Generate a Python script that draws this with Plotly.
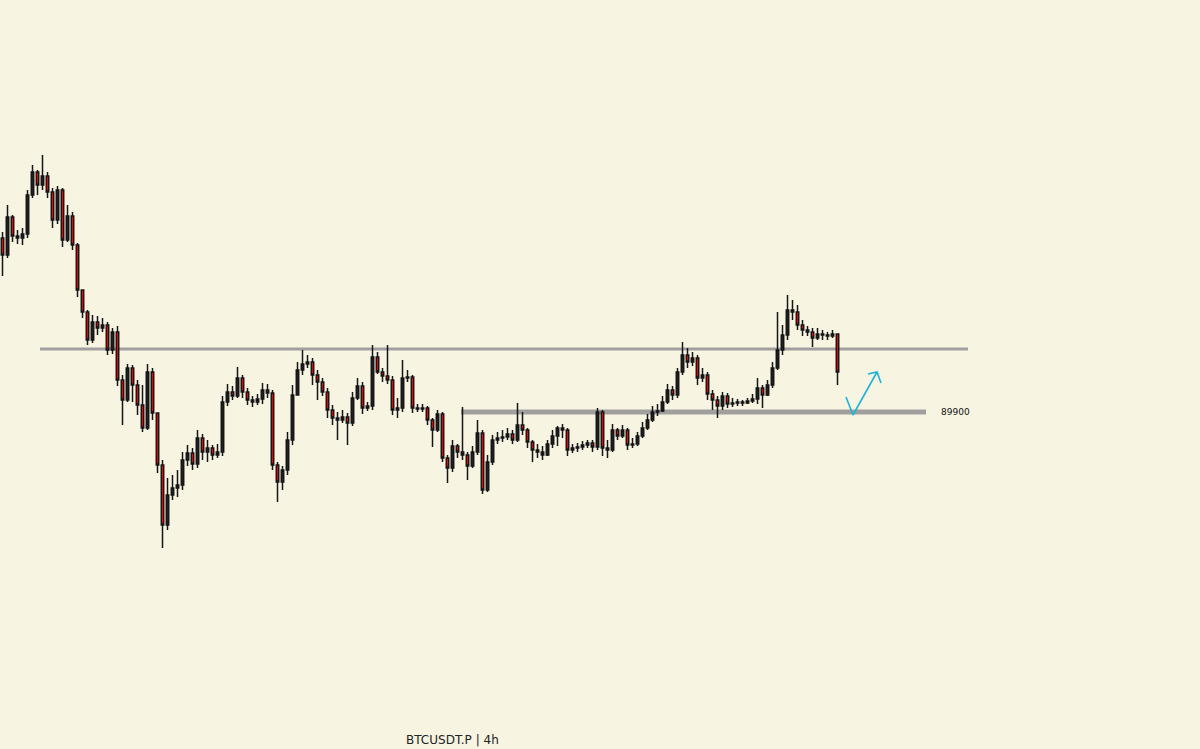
import plotly.graph_objects as go

BG = "#f7f4e2"

first_open = 98600
closes = [
    97750, 99650, 98700, 98600, 98800, 100750, 101900, 101250, 101700, 100900,
    99500, 101000, 98500, 99700, 98250, 96000, 94900, 93500, 94400, 94100,
    94250, 93000, 93900, 91500, 90500, 92100, 91250, 90250, 89100, 91900,
    89850, 87250, 84250, 85750, 86100, 86250, 87500, 87850, 87300, 88600,
    87900, 88100, 87750, 87900, 90400, 90900, 90700, 91600, 90900, 90500,
    90400, 90550, 91000, 90850, 87250, 86400, 87000, 88500, 90750, 92000,
    92300, 92400, 91750, 91400, 90900, 90000, 89600, 89500, 89650, 89350,
    90600, 91200, 90100, 90200, 92650, 91900, 91700, 91500, 90000, 90100,
    91600, 91650, 90100, 90050, 90100, 89500, 89000, 89800, 87600, 87100,
    88200, 87900, 87750, 87200, 87900, 88850, 86000, 87400, 88500, 88600,
    88650, 88800, 88500, 89250, 89000, 88400, 88000, 87900, 87750, 88300,
    88700, 89100, 89000, 88000, 88100, 88150, 88250, 88350, 88150, 89900,
    88100, 88000, 89000, 88700, 89000, 88250, 88300, 88700, 89100, 89500,
    89900, 89950, 90400, 91000, 90750, 91900, 92750, 92400, 92600, 91600,
    91750, 90800, 90500, 90200, 90700, 90300, 90350, 90400, 90350, 90450,
    90550, 91100, 90750, 91250, 92100, 93000, 93750, 95000, 94900, 94250,
    94000, 93900, 93600, 93800, 93750, 93700, 93800, 91900,
]
highs = [
    98900, 100250, 99750, 99000, 99100, 101000, 102250, 102000, 102750, 101900,
    101100, 101200, 101100, 100250, 99900, 98350, 95700, 95000, 94750, 94700,
    94600, 94400, 94100, 94200, 91750, 92300, 92250, 91500, 91250, 92300,
    92100, 89850, 87500, 86600, 86750, 87000, 87900, 88250, 88100, 89000,
    88800, 88500, 88250, 88300, 90700, 91300, 91200, 92150, 91750, 91100,
    90700, 90800, 91350, 91300, 91000, 87400, 87200, 88900, 91250, 92400,
    93000, 92750, 92600, 92000, 91600, 91100, 90250, 89900, 90000, 89850,
    90900, 91600, 91400, 90400, 93250, 92900, 92100, 93250, 91700, 90600,
    92500, 92000, 91750, 90300, 90300, 90200, 89600, 90000, 89900, 87750,
    88500, 88300, 90150, 87900, 88200, 89500, 89000, 87750, 88750, 88900,
    89000, 89100, 89000, 90350, 89900, 89100, 88500, 88300, 88200, 88500,
    89000, 89200, 89300, 89100, 88300, 88350, 88450, 88500, 88500, 90100,
    90000, 88500, 89300, 89100, 89250, 89100, 88600, 88900, 89400, 89800,
    90200, 90300, 90700, 91300, 91200, 92100, 93400, 93100, 92900, 92750,
    92100, 91900, 91000, 90700, 90900, 90850, 90600, 90550, 90500, 90600,
    90800, 91600, 91250, 91500, 92400, 94900, 94250, 95750, 95500, 95250,
    94500, 94200, 94100, 94100, 94000, 93900, 94000, 93800,
]
lows = [
    96700, 97600, 98400, 98300, 98250, 98600, 100600, 100750, 101000, 100600,
    99100, 99300, 98150, 98400, 98000, 95650, 94600, 93250, 93350, 93750,
    93900, 92750, 92800, 91200, 89250, 90400, 90400, 89750, 88900, 89000,
    89500, 86850, 83100, 84000, 85500, 85650, 86000, 87200, 87000, 87100,
    87500, 87400, 87500, 87600, 87700, 90200, 90500, 90600, 90600, 90250,
    90150, 90250, 90300, 90600, 87000, 85400, 86000, 86750, 88250, 90750,
    91750, 92100, 91250, 90500, 90700, 89600, 89250, 88500, 89350, 88250,
    89200, 90500, 89800, 89950, 90000, 91800, 91400, 91300, 89750, 89600,
    89900, 91400, 89850, 89900, 89900, 89250, 88150, 88900, 87400, 86350,
    86900, 87600, 87500, 86500, 87100, 87750, 85800, 85900, 87250, 88300,
    88400, 88500, 88300, 88400, 88750, 88100, 87400, 87600, 87500, 87700,
    88100, 88200, 88600, 87700, 87850, 87900, 88000, 88100, 87900, 88000,
    87700, 87600, 87900, 88500, 88600, 88000, 88100, 88200, 88600, 89000,
    89400, 89700, 89900, 90300, 90500, 90600, 91750, 92100, 92200, 91250,
    91400, 90500, 90000, 89600, 90000, 90100, 90150, 90200, 90200, 90300,
    90350, 90300, 90100, 90700, 91100, 92000, 92750, 93500, 94500, 94000,
    93700, 93700, 93150, 93500, 93500, 93500, 93600, 91250,
]

# horizontal levels: (price, start candle, end candle, width px)
upper_level = (93050, 7.5, 193.1, 3)
lower_level = (89900, 91.7, 184.7, 5)
level_label = "89900"

# projected move (candle index, price)
path_x = [168.7, 170.1, 174.9]
path_y = [90650, 89750, 91900]
head_x = [173.1, 174.9, 175.7]
head_y = [91800, 91900, 91350]

title = "BTCUSDT.P | 4h"

idx = list(range(len(closes)))
opens = [first_open] + closes[:-1]
highs = [max(h, o, c) for h, o, c in zip(highs, opens, closes)]
lows = [min(l, o, c) for l, o, c in zip(lows, opens, closes)]

fig = go.Figure()

fig.add_trace(go.Candlestick(
    x=idx, open=opens, high=highs, low=lows, close=closes,
    whiskerwidth=0,
    increasing=dict(line=dict(color="#151515", width=1.5), fillcolor="#222222"),
    decreasing=dict(line=dict(color="#151515", width=1.5), fillcolor="#ff0000"),
    showlegend=False, hoverinfo="skip",
))

for price, x0, x1, w in (upper_level, lower_level):
    fig.add_shape(type="line", xref="x", yref="y", x0=x0, x1=x1, y0=price, y1=price,
                  line=dict(color="rgba(150,150,150,0.9)", width=w), layer="below")

fig.add_annotation(x=187.2, y=lower_level[0], xref="x", yref="y", text=level_label,
                   showarrow=False, xanchor="left", yanchor="middle",
                   font=dict(family="DejaVu Sans", size=9, color="#111"))

fig.add_trace(go.Scatter(x=path_x, y=path_y, mode="lines", showlegend=False,
                         line=dict(color="#1cb4d8", width=1.6), hoverinfo="skip"))
fig.add_trace(go.Scatter(x=head_x, y=head_y, mode="lines", showlegend=False,
                         line=dict(color="#1cb4d8", width=1.6), hoverinfo="skip"))

fig.add_annotation(x=452 / 1200, y=0, xref="paper", yref="paper", text=title,
                   showarrow=False, xanchor="center", yanchor="bottom",
                   font=dict(family="DejaVu Sans", size=12, color="#222"))

fig.update_layout(
    width=1200, height=749,
    paper_bgcolor=BG, plot_bgcolor=BG,
    margin=dict(l=0, r=0, t=0, b=0),
    xaxis=dict(range=[-0.5, 239.5], visible=False, rangeslider=dict(visible=False)),
    yaxis=dict(range=[73050, 110500], visible=False),
    showlegend=False,
)

fig.write_html("out.html", config={"displayModeBar": False},
               post_script="document.body.style.margin='0';"
                           "document.body.style.background='" + BG + "';")
